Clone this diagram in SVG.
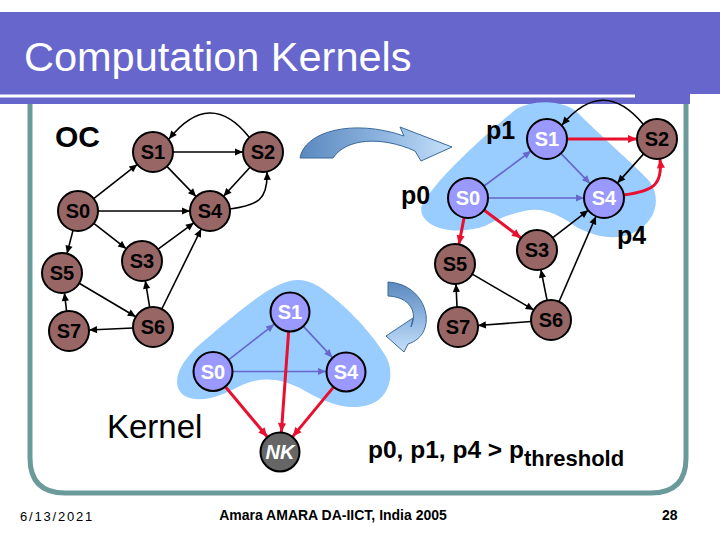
<svg xmlns="http://www.w3.org/2000/svg" width="720" height="540" viewBox="0 0 720 540">
<style>
.t{font-family:"Liberation Sans",Arial,sans-serif}
.nb{fill:#996666;stroke:#000;stroke-width:2}
.np{fill:#9999FF;stroke:#000;stroke-width:2}
.nk{fill:#666666;stroke:#000;stroke-width:2}
.lb{font-family:"Liberation Sans",Arial,sans-serif;font-weight:bold;font-size:20px;text-anchor:middle;fill:#000}
.lw{font-family:"Liberation Sans",Arial,sans-serif;font-weight:bold;font-size:20px;text-anchor:middle;fill:#fff}
.eb{stroke:#000;stroke-width:1.6;fill:none;marker-end:url(#ab)}
.eu{stroke:#6666CC;stroke-width:1.6;fill:none;marker-end:url(#au)}
.er{stroke:#E8102E;stroke-width:3;fill:none;marker-end:url(#ar)}
.blob{fill:#99CCFF}
.big{font-family:"Liberation Sans",Arial,sans-serif;font-weight:bold;fill:#000}
</style>
<defs>
<marker id="ab" viewBox="0 0 10 10" refX="10" refY="5" markerWidth="9" markerHeight="8" markerUnits="userSpaceOnUse" orient="auto"><path d="M0,0.5 L10,5 L0,9.5 Z" fill="#000"/></marker>
<marker id="au" viewBox="0 0 10 10" refX="10" refY="5" markerWidth="9" markerHeight="8" markerUnits="userSpaceOnUse" orient="auto"><path d="M0,0.5 L10,5 L0,9.5 Z" fill="#6666CC"/></marker>
<marker id="ar" viewBox="0 0 10 10" refX="10" refY="5" markerWidth="10" markerHeight="9" markerUnits="userSpaceOnUse" orient="auto"><path d="M0,0.5 L10,5 L0,9.5 Z" fill="#E8102E"/></marker>
<linearGradient id="gh" x1="0" y1="0" x2="1" y2="0"><stop offset="0" stop-color="#5B89BF"/><stop offset="0.55" stop-color="#8FB5E0"/><stop offset="1" stop-color="#C6E0FA"/></linearGradient>
<linearGradient id="gv" x1="0" y1="0" x2="0" y2="1"><stop offset="0" stop-color="#5B89BF"/><stop offset="0.5" stop-color="#8FB5E0"/><stop offset="1" stop-color="#C6E0FA"/></linearGradient>
</defs>
<rect width="720" height="540" fill="#fff"/>
<g id="title">
<rect x="0" y="12" width="720" height="82" fill="#6666CC"/>
<rect x="0" y="93" width="690" height="11" fill="#6666CC"/>
<rect x="0" y="94.5" width="635" height="3" fill="#fff"/>
<text class="t" x="24" y="71" font-size="41.5" fill="#fff">Computation Kernels</text>
</g>
<path id="frame" d="M30,104 V458 Q30,493 65,493 H651 Q686,493 686,458 V104" fill="none" stroke="#6A9A9A" stroke-width="5"/>
<g id="blobs">
<path class="blob" d="M423,203 C440,175 485,135 515,110 C530,100 565,98 580,115 C605,140 640,170 650,182 C662,200 655,222 635,232 C615,242 595,236 578,228 C560,215 545,208 530,210 C515,212 500,218 485,226 C465,233 440,232 428,222 C420,215 420,208 423,203 Z"/>
<path class="blob" d="M290,281 C270,285 240,310 205,340 C180,360 168,385 185,396 C200,404 222,396 240,386 C260,376 280,378 300,388 C320,400 345,412 368,405 C392,398 395,370 385,355 C370,330 340,300 318,286 C308,280 298,279 290,281 Z"/>
</g>
<g id="bigarrows">
<path d="M300,158 C304,132 352,118 404,136 L400,127 L452,147 L421,161 L415,151 C382,136 346,138 333,158 Z" fill="url(#gh)" stroke="#3A6A9A" stroke-width="1"/>
<path d="M388,282 C428,284 440,334 408,344 L404,352 L386,336 L413,318 L411,327 C418,312 410,297 388,296 Z" fill="url(#gv)" stroke="#3A6A9A" stroke-width="1"/>
</g>
<g id="connectors">
<line class="eb" x1="93.7" y1="198.6" x2="137.3" y2="164.4"/>
<line class="eb" x1="173" y1="152" x2="243" y2="152"/>
<path class="eb" d="M249,137 Q210,88 169,139"/>
<line class="eb" x1="166.9" y1="166.4" x2="196.1" y2="196.6"/>
<line class="eb" x1="250.5" y1="166.8" x2="223.5" y2="196.3"/>
<path class="eb" d="M230,209 C258,205 268,200 267,172"/>
<line class="eb" x1="98" y1="211" x2="190" y2="211"/>
<line class="eb" x1="93.8" y1="223.3" x2="126.2" y2="248.7"/>
<line class="eb" x1="73" y1="230.4" x2="67" y2="253.6"/>
<line class="eb" x1="158.1" y1="249.2" x2="193.9" y2="222.8"/>
<line class="eb" x1="161.8" y1="309" x2="201.2" y2="229"/>
<line class="eb" x1="149.7" y1="307.3" x2="145.3" y2="280.7"/>
<line class="eb" x1="79.2" y1="283.2" x2="135.8" y2="316.8"/>
<line class="eb" x1="133" y1="328" x2="89" y2="330"/>
<line class="eb" x1="66.6" y1="311.1" x2="64.4" y2="292.9"/>
<line class="eu" x1="484" y1="186" x2="531" y2="151"/>
<line class="eu" x1="560.9" y1="153.4" x2="590.1" y2="183.6"/>
<line class="eu" x1="488" y1="198" x2="584" y2="198"/>
<line class="er" x1="567" y1="139" x2="637" y2="139"/>
<path class="eb" d="M643,124 Q603,76 562,125"/>
<line class="eb" x1="643.6" y1="153.9" x2="617.4" y2="183.1"/>
<path class="er" d="M624,195 C652,191 663,186 660,159"/>
<line class="er" x1="464.1" y1="217.6" x2="458.9" y2="244.4"/>
<line class="er" x1="484" y1="210" x2="521" y2="238"/>
<line class="eb" x1="552.8" y1="237.7" x2="588.2" y2="210.3"/>
<line class="eb" x1="559" y1="301.7" x2="596" y2="216.3"/>
<line class="eb" x1="547.1" y1="300.4" x2="540.9" y2="269.6"/>
<line class="eb" x1="472.3" y1="274.1" x2="533.7" y2="309.9"/>
<line class="eb" x1="531.1" y1="321.5" x2="477.9" y2="325.5"/>
<line class="eb" x1="457" y1="307" x2="456" y2="284"/>
<line class="eu" x1="228.8" y1="359.7" x2="274.2" y2="324.3"/>
<line class="eu" x1="303.7" y1="326.6" x2="332.3" y2="357.4"/>
<line class="eu" x1="233" y1="371.5" x2="326" y2="371.5"/>
<line class="er" x1="225.8" y1="387.3" x2="267.2" y2="436.7"/>
<line class="er" x1="288.6" y1="331.9" x2="281.4" y2="432.1"/>
<line class="er" x1="333.3" y1="387.4" x2="292.7" y2="436.6"/>
</g>
<g id="oc-S1"><circle class="nb" cx="153" cy="152" r="20"/><text class="lb" x="153" y="159">S1</text></g>
<g id="oc-S2"><circle class="nb" cx="263" cy="152" r="20"/><text class="lb" x="263" y="159">S2</text></g>
<g id="oc-S0"><circle class="nb" cx="78" cy="211" r="20"/><text class="lb" x="78" y="218">S0</text></g>
<g id="oc-S4"><circle class="nb" cx="210" cy="211" r="20"/><text class="lb" x="210" y="218">S4</text></g>
<g id="oc-S3"><circle class="nb" cx="142" cy="261" r="20"/><text class="lb" x="142" y="268">S3</text></g>
<g id="oc-S5"><circle class="nb" cx="62" cy="273" r="20"/><text class="lb" x="62" y="280">S5</text></g>
<g id="oc-S7"><circle class="nb" cx="69" cy="331" r="20"/><text class="lb" x="69" y="338">S7</text></g>
<g id="oc-S6"><circle class="nb" cx="153" cy="327" r="20"/><text class="lb" x="153" y="334">S6</text></g>
<g id="r-S1"><circle class="np" cx="547" cy="139" r="20"/><text class="lw" x="547" y="146">S1</text></g>
<g id="r-S2"><circle class="nb" cx="657" cy="139" r="20"/><text class="lb" x="657" y="146">S2</text></g>
<g id="r-S0"><circle class="np" cx="468" cy="198" r="20"/><text class="lw" x="468" y="205">S0</text></g>
<g id="r-S4"><circle class="np" cx="604" cy="198" r="20"/><text class="lw" x="604" y="205">S4</text></g>
<g id="r-S3"><circle class="nb" cx="537" cy="250" r="20"/><text class="lb" x="537" y="257">S3</text></g>
<g id="r-S5"><circle class="nb" cx="455" cy="264" r="20"/><text class="lb" x="455" y="271">S5</text></g>
<g id="r-S7"><circle class="nb" cx="458" cy="327" r="20"/><text class="lb" x="458" y="334">S7</text></g>
<g id="r-S6"><circle class="nb" cx="551" cy="320" r="20"/><text class="lb" x="551" y="327">S6</text></g>
<g id="k-S1"><circle class="np" cx="290" cy="312" r="19.5"/><text class="lw" x="290" y="319">S1</text></g>
<g id="k-S0"><circle class="np" cx="213" cy="371.5" r="19.5"/><text class="lw" x="213" y="378.5">S0</text></g>
<g id="k-S4"><circle class="np" cx="346" cy="372" r="19.5"/><text class="lw" x="346" y="379">S4</text></g>
<g id="k-NK"><circle class="nk" cx="280" cy="452" r="19.5"/><text class="lw" x="280" y="459" font-style="italic" font-size="18">NK</text></g>
<g id="labels">
<text class="big" x="55" y="147" font-size="30">OC</text>
<text class="big" x="486" y="139" font-size="25">p1</text>
<text class="big" x="401" y="204" font-size="25">p0</text>
<text class="big" x="617" y="244" font-size="25">p4</text>
<text class="t" x="107" y="438" font-size="33">Kernel</text>
<text class="big" x="368" y="458" font-size="24.5">p0, p1, p4 &gt; p<tspan font-size="22" dy="8">threshold</tspan></text>
</g>
<g id="footer">
<text class="t" x="20" y="521" font-size="13" letter-spacing="1.8">6/13/2021</text>
<text class="t" x="333" y="520" font-size="14" font-weight="bold" text-anchor="middle">Amara AMARA DA-IICT, India 2005</text>
<text class="t" x="662" y="520" font-size="14" font-weight="bold">28</text>
</g>
</svg>
